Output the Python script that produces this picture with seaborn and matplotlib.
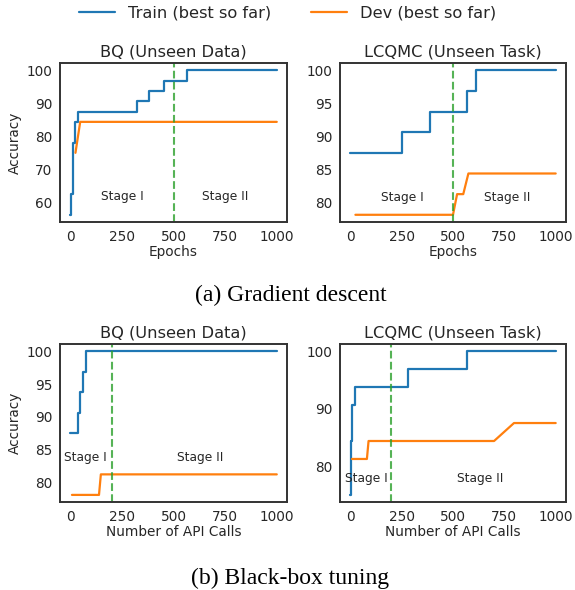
import numpy as np
import pandas as pd
import matplotlib
matplotlib.use("Agg")
import matplotlib.pyplot as plt
import seaborn as sns

sns.set_style("white")
plt.rcParams['font.family'] = ['DejaVu Sans']

# (a) gradient descent, BQ
gd_bq_train_x = [0, 5, 12, 22, 37, 325, 380, 455, 565, 1000]
gd_bq_train_y = [56.25, 62.5, 78.125, 84.375, 87.5, 90.625, 93.75, 96.875, 100, 100]
gd_bq_dev_x = [25, 48, 1000]
gd_bq_dev_y = [75.0, 84.375, 84.375]

# (a) gradient descent, LCQMC
gd_lc_train_x = [0, 254, 389, 567, 611, 1000]
gd_lc_train_y = [87.5, 90.625, 93.75, 96.875, 100, 100]
gd_lc_dev_x = [25, 500, 520, 550, 575, 1000]
gd_lc_dev_y = [78.125, 78.125, 81.25, 81.25, 84.375, 84.375]

# (b) black-box tuning, BQ
bb_bq_train_x = [0, 37, 48, 61, 77, 1000]
bb_bq_train_y = [87.5, 90.625, 93.75, 96.875, 100, 100]
bb_bq_dev_x = [8, 139, 148, 1000]
bb_bq_dev_y = [78.125, 78.125, 81.25, 81.25]

# (b) black-box tuning, LCQMC
bb_lc_train_x = [0, 3, 8, 25, 283, 567, 1000]
bb_lc_train_y = [75.0, 84.375, 90.625, 93.75, 96.875, 100, 100]
bb_lc_dev_x = [8, 81, 89, 700, 797, 1000]
bb_lc_dev_y = [81.25, 81.25, 84.375, 84.375, 87.5, 87.5]

panels = [
    ("BQ (Unseen Data)", "Epochs", gd_bq_train_x, gd_bq_train_y, gd_bq_dev_x, gd_bq_dev_y,
     500, [60, 70, 80, 90, 100], (250, 61.7), (750, 61.7)),
    ("LCQMC (Unseen Task)", "Epochs", gd_lc_train_x, gd_lc_train_y, gd_lc_dev_x, gd_lc_dev_y,
     500, [80, 85, 90, 95, 100], (256, 80.8), (762, 80.8)),
    ("BQ (Unseen Data)", "Number of API Calls", bb_bq_train_x, bb_bq_train_y, bb_bq_dev_x, bb_bq_dev_y,
     200, [80, 85, 90, 95, 100], (73, 83.8), (629, 83.8)),
    ("LCQMC (Unseen Task)", "Number of API Calls", bb_lc_train_x, bb_lc_train_y, bb_lc_dev_x, bb_lc_dev_y,
     200, [80, 90, 100], (76, 77.8), (632, 77.8)),
]

fig = plt.figure(figsize=(5.75, 5.9), dpi=100)
rects = [
    [0.1043, 0.6237, 0.395, 0.2695],
    [0.5913, 0.6237, 0.393, 0.2695],
    [0.1043, 0.149, 0.395, 0.268],
    [0.5913, 0.149, 0.393, 0.268],
]

blue = "#1f77b4"
orange = "#ff7f0e"

for i, (title, xlabel, tx, ty, dx, dy, split, yticks, s1, s2) in enumerate(panels):
    ax = fig.add_axes(rects[i])
    sns.lineplot(x=tx, y=ty, ax=ax, color=blue, linewidth=1.6,
                 drawstyle="steps-post", label="Train (best so far)")
    sns.lineplot(x=dx, y=dy, ax=ax, color=orange, linewidth=1.6,
                 label="Dev (best so far)")
    ax.axvline(split, color="#2ca02c", linestyle="--", linewidth=1.5, alpha=0.8)
    ax.set_xlim(-50, 1050)
    ax.set_xticks([0, 250, 500, 750, 1000])
    ax.set_yticks(yticks)
    ax.tick_params(labelsize=9.8, pad=2)
    ax.set_title(title, fontsize=11.7, pad=5)
    ax.set_xlabel(xlabel, fontsize=9.8, labelpad=1)
    if i % 2 == 0:
        ax.set_ylabel("Accuracy", fontsize=9.8, labelpad=3)
    ax.text(s1[0], s1[1], "Stage I", ha="center", va="center", fontsize=8.8, color=".15")
    ax.text(s2[0], s2[1], "Stage II", ha="center", va="center", fontsize=8.8, color=".15")
    for sp in ax.spines.values():
        sp.set_linewidth(1.4)
        sp.set_color(".2")
    if i == 0:
        handles, labels = ax.get_legend_handles_labels()
    ax.get_legend().remove()

fig.legend(handles, labels, loc="center", bbox_to_anchor=(0.5, 0.978), ncol=2,
           frameon=False, fontsize=11.7, handlelength=2.2, columnspacing=2.5)

fig.text(0.505, 1 - 295 / 590, "(a) Gradient descent", ha="center", va="center",
         fontsize=17, family="Liberation Serif", color="black")
fig.text(0.505, 1 - 578 / 590, "(b) Black-box tuning", ha="center", va="center",
         fontsize=17, family="Liberation Serif", color="black")

fig.savefig("out.png", dpi=100)
